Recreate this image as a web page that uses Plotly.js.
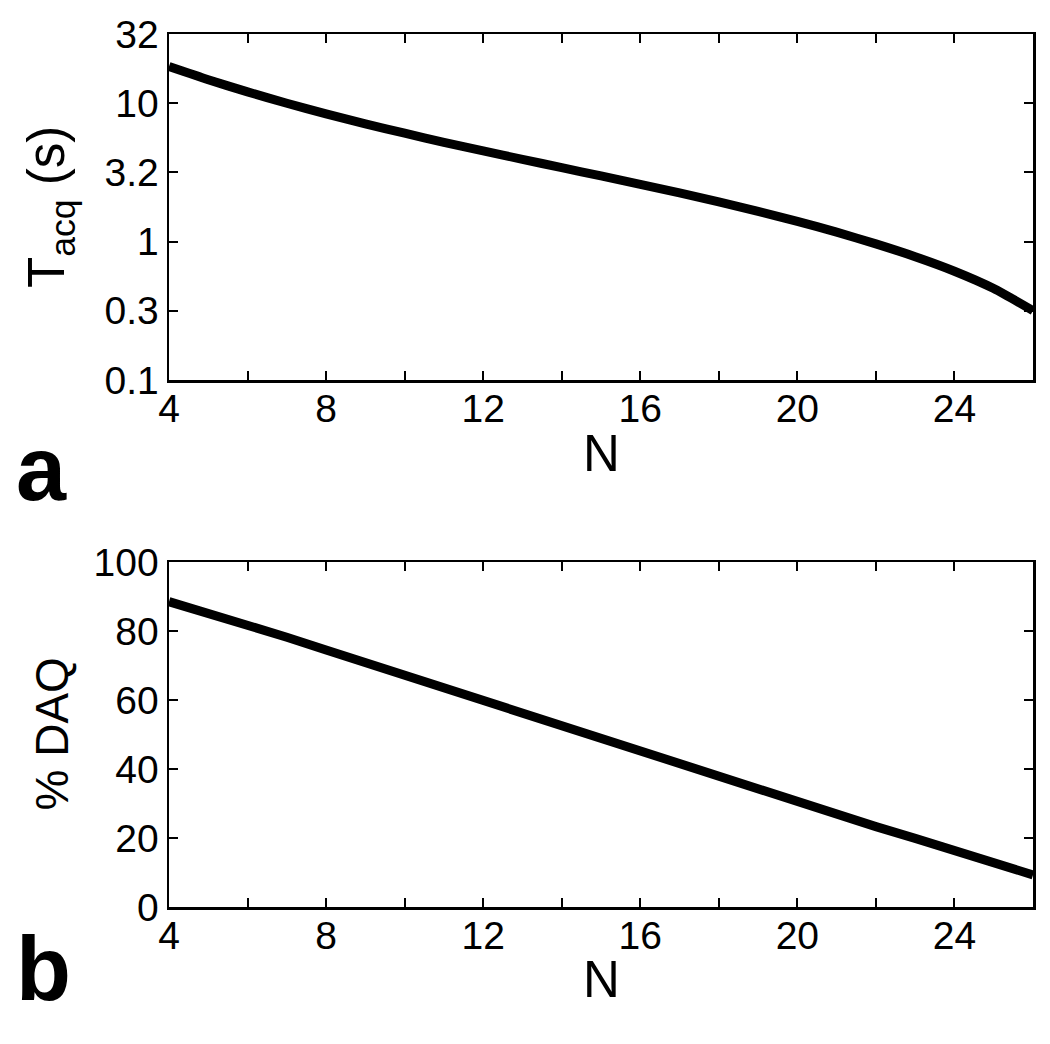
<!DOCTYPE html>
<html>
<head>
<meta charset="utf-8">
<script src="https://cdn.plot.ly/plotly-3.0.1.min.js"></script>
<style>
  html, body { margin: 0; padding: 0; background: #fff; }
  #chart { width: 1050px; height: 1044px; }
</style>
</head>
<body>
<div id="chart"></div>
<script>
// N values, shared by both panels
const nValues = [4, 5, 6, 7, 8, 9, 10, 11, 12, 13, 14, 15, 16, 17, 18, 19, 20, 21, 22, 23, 24, 25, 26];

// panel a: acquisition time (s), log scale
const tacq = [18.4, 14.78, 12.07, 9.99, 8.37, 7.09, 6.07, 5.22, 4.52, 3.93, 3.42, 2.98,
              2.59, 2.25, 1.94, 1.655, 1.40, 1.17, 0.963, 0.778, 0.611, 0.458, 0.317];

// panel b: % DAQ
const daq = [88.5, 85.2, 82.0, 78.2, 74.5, 70.8, 67.2, 63.6, 60.0, 56.4, 52.8, 49.0,
             45.0, 41.4, 37.8, 34.1, 30.5, 26.9, 23.3, 19.9, 16.5, 12.9, 9.3];

// tick labels
const logTickVals = [0.1, 0.3162, 1, 3.162, 10, 31.62];
const logTickText = ['0.1', '0.3', '1', '3.2', '10', '32'];
const daqTickVals = [0, 20, 40, 60, 80, 100];

const font = 'Liberation Sans, Arial, sans-serif';
const W = 1050, H = 1044;

const traces = [
    {
        x: nValues, y: tacq, xaxis: 'x', yaxis: 'y',
        type: 'scatter', mode: 'lines',
        line: { color: '#000', width: 9, shape: 'spline', smoothing: 0.6 }
    },
    {
        x: nValues, y: daq, xaxis: 'x2', yaxis: 'y2',
        type: 'scatter', mode: 'lines',
        line: { color: '#000', width: 9 }
    }
];

const tickStyle = {
    ticks: 'inside', ticklen: 9, tickwidth: 2, tickcolor: '#000',
    showline: true, linecolor: '#000', linewidth: 2.5, mirror: 'ticks',
    showgrid: false, zeroline: false,
    tickfont: { family: font, size: 39, color: '#000' },
    automargin: false
};

function xAxis(anchor) {
    return Object.assign({}, tickStyle, {
        domain: [169 / W, 1033 / W],
        anchor: anchor,
        range: [4, 26],
        tickmode: 'linear', tick0: 4, dtick: 4,
        ticklabelstandoff: -7,
        minor: { tick0: 4, dtick: 2, ticks: 'inside', ticklen: 9, tickwidth: 2, tickcolor: '#000', showgrid: false }
    });
}

function label(text, xPx, yPx, size, extra) {
    return Object.assign({
        text: text, xref: 'paper', yref: 'paper',
        x: xPx / W, y: 1 - yPx / H,
        xanchor: 'center', yanchor: 'middle', showarrow: false,
        font: { family: font, size: size, color: '#000' }
    }, extra || {});
}

const layout = {
    width: W, height: H,
    margin: { l: 0, r: 0, t: 0, b: 0 },
    paper_bgcolor: '#fff', plot_bgcolor: '#fff',
    showlegend: false,
    font: { family: font, color: '#000' },
    xaxis: xAxis('y'),
    yaxis: Object.assign({}, tickStyle, {
        domain: [1 - 380 / H, 1 - 34 / H],
        anchor: 'x',
        type: 'log',
        range: [-1, 1.5],
        tickvals: logTickVals,
        ticktext: logTickText
    }),
    xaxis2: xAxis('y2'),
    yaxis2: Object.assign({}, tickStyle, {
        domain: [1 - 907 / H, 1 - 562 / H],
        anchor: 'x2',
        range: [0, 100],
        tickvals: daqTickVals
    }),
    annotations: [
        // axis titles
        label('T<sub>acq</sub> (s)', 50, 207, 51, { textangle: -90 }),
        label('N', 601, 453, 51),
        label('% DAQ', 51, 734.5, 46, { textangle: -90 }),
        label('N', 601, 979, 51),
        // panel letters
        label('<b>a</b>', 14, 469, 90, { xanchor: 'left' }),
        label('<b>b</b>', 14, 969, 90, { xanchor: 'left' })
    ]
};

Plotly.newPlot('chart', traces, layout, { displayModeBar: false, staticPlot: true });
</script>
</body>
</html>
